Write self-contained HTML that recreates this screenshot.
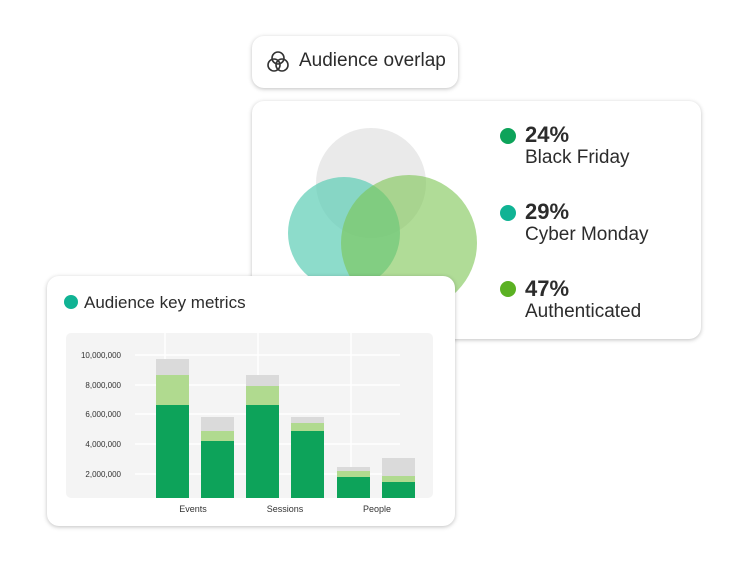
<!DOCTYPE html>
<html><head><style>
body{margin:0;width:750px;height:563px;background:#fff;position:relative;overflow:hidden;font-family:"Liberation Sans",sans-serif;color:#2c2c2c}
.card{position:absolute;background:#fff;border-radius:12px;box-shadow:0 1px 4px rgba(0,0,0,.25)}
</style></head><body>
<div class="card" style="left:252px;top:36px;width:206px;height:52px;">
<svg style="position:absolute;left:14px;top:14px" width="24" height="24" viewBox="0 0 24 24" fill="none" stroke="#333" stroke-width="1.6"><circle cx="12" cy="8" r="6"/><circle cx="8" cy="15" r="6"/><circle cx="16" cy="15" r="6"/></svg>
<div style="position:absolute;left:47px;top:14px;font-size:19px">Audience overlap</div></div>
<div class="card" style="left:252px;top:101px;width:449px;height:238px;"></div>
<svg style="position:absolute;left:0;top:0" width="750" height="563">
<circle cx="371" cy="183" r="55" fill="#e6e6e6" opacity=".85"/>
<circle cx="344" cy="233" r="56" fill="#5ccdb5" opacity=".7"/>
<circle cx="409" cy="243" r="68" fill="#7cc551" opacity=".6"/>
<circle cx="508" cy="136" r="8" fill="#0da35a"/>
<circle cx="508" cy="213" r="8" fill="#10b394"/>
<circle cx="508" cy="289" r="8" fill="#5bb123"/>
</svg>
<div style="position:absolute;left:525px;top:122px;font-size:22px;font-weight:bold;line-height:26px">24%</div>
<div style="position:absolute;left:525px;top:146px;font-size:19px;line-height:24px">Black Friday</div>
<div style="position:absolute;left:525px;top:199px;font-size:22px;font-weight:bold;line-height:26px">29%</div>
<div style="position:absolute;left:525px;top:223px;font-size:19px;line-height:24px">Cyber Monday</div>
<div style="position:absolute;left:525px;top:276px;font-size:22px;font-weight:bold;line-height:26px">47%</div>
<div style="position:absolute;left:525px;top:300px;font-size:19px;line-height:24px">Authenticated</div>
<div class="card" style="left:47px;top:276px;width:408px;height:250px;"></div>
<svg style="position:absolute;left:0;top:0" width="750" height="563" font-family="Liberation Sans" >
<circle cx="71" cy="302" r="7" fill="#10b394"/>
<text x="84" y="308" font-size="17" fill="#2c2c2c">Audience key metrics</text>
<rect x="66" y="333" width="367" height="165" rx="5" fill="#f4f4f4"/>
<g stroke="#fff" stroke-width="1.5">
<line x1="135" y1="355" x2="400" y2="355"/><line x1="135" y1="385" x2="400" y2="385"/><line x1="135" y1="414" x2="400" y2="414"/><line x1="135" y1="444" x2="400" y2="444"/><line x1="135" y1="474" x2="400" y2="474"/>
<line x1="165" y1="333" x2="165" y2="498"/><line x1="258" y1="333" x2="258" y2="498"/><line x1="351" y1="333" x2="351" y2="498"/>
</g>
<g font-size="8" fill="#333" text-anchor="end">
<text x="121" y="358">10,000,000</text><text x="121" y="388">8,000,000</text><text x="121" y="417">6,000,000</text><text x="121" y="447">4,000,000</text><text x="121" y="477">2,000,000</text></g>
<g>
<rect x="156" y="359" width="33" height="16" fill="#dadada"/><rect x="156" y="375" width="33" height="30" fill="#b0da8f"/><rect x="156" y="405" width="33" height="93" fill="#0da35a"/>
<rect x="201" y="417" width="33" height="14" fill="#dadada"/><rect x="201" y="431" width="33" height="10" fill="#b0da8f"/><rect x="201" y="441" width="33" height="57" fill="#0da35a"/>
<rect x="246" y="375" width="33" height="11" fill="#dadada"/><rect x="246" y="386" width="33" height="19" fill="#b0da8f"/><rect x="246" y="405" width="33" height="93" fill="#0da35a"/>
<rect x="291" y="417" width="33" height="6" fill="#dadada"/><rect x="291" y="423" width="33" height="8" fill="#b0da8f"/><rect x="291" y="431" width="33" height="67" fill="#0da35a"/>
<rect x="337" y="467" width="33" height="4" fill="#dadada"/><rect x="337" y="471" width="33" height="6" fill="#b0da8f"/><rect x="337" y="477" width="33" height="21" fill="#0da35a"/>
<rect x="382" y="458" width="33" height="18" fill="#dadada"/><rect x="382" y="476" width="33" height="6" fill="#b0da8f"/><rect x="382" y="482" width="33" height="16" fill="#0da35a"/>
</g>
<g font-size="9" fill="#333" text-anchor="middle"><text x="193" y="512">Events</text><text x="285" y="512">Sessions</text><text x="377" y="512">People</text></g>
</svg>
</body></html>
